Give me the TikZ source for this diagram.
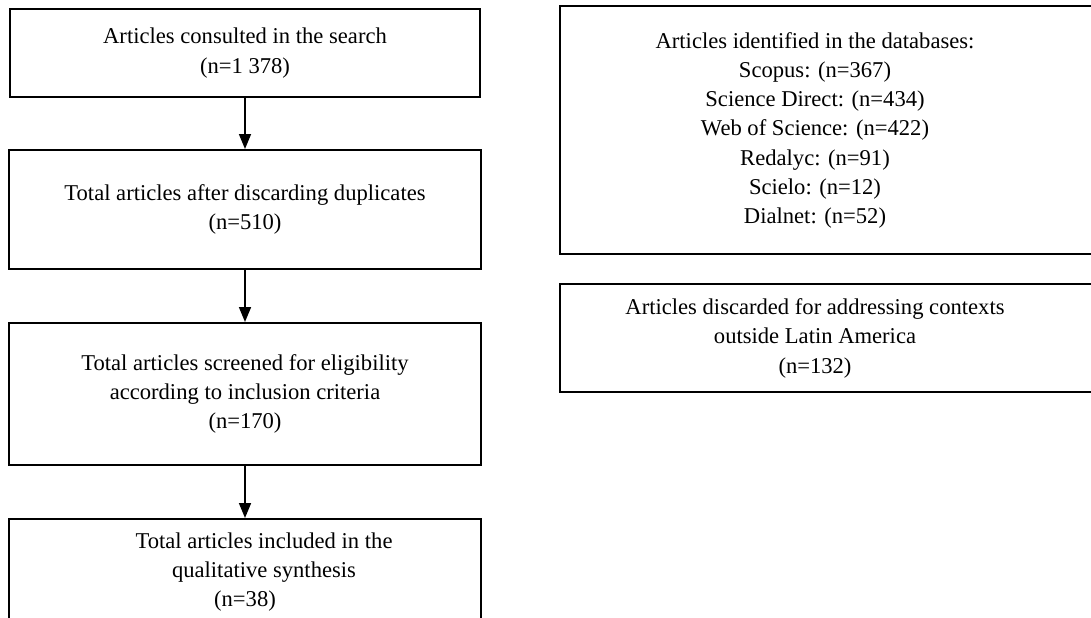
\documentclass[tikz,border=0pt]{standalone}
\usepackage{fontspec}
\setmainfont{Liberation Serif}
\usetikzlibrary{arrows.meta}

\tikzset{
  stagebox/.style={draw, line width=1pt, align=center, inner sep=0pt,
    font=\fontsize{11.3}{14.6}\selectfont},
  flowarrow/.style={-{Triangle[width=6pt,length=7.5pt]}, line width=0.8pt}
}

\begin{document}
\begin{tikzpicture}[x=0.5pt,y=-0.5pt]
  \useasboundingbox (0,0) rectangle (1091,617);

  \node (search)   at (245,53)    [stagebox, minimum width=235pt, minimum height=44pt]
    {Articles consulted in the search\\(n=1 378)};
  \node (unique)   at (245,209.5) [stagebox, minimum width=236pt, minimum height=59.5pt]
    {Total articles after discarding duplicates\\(n=510)};
  \node (screened) at (245,394)   [stagebox, minimum width=236pt, minimum height=71pt]
    {Total articles screened for eligibility\\according to inclusion criteria\\(n=170)};
  \node (included) at (245,572)   [stagebox, minimum width=236pt, minimum height=53pt]
    {\hspace*{19pt}Total articles included in the\\\hspace*{19pt}qualitative synthesis\\(n=38)};

  \node (databases) at (830,130) [stagebox, minimum width=270pt, minimum height=124pt]
    {\hspace*{-15pt}\begin{tabular}{@{}c@{}}Articles identified in the databases:\\
      Scopus: (n=367)\\Science Direct: (n=434)\\Web of Science: (n=422)\\
      Redalyc: (n=91)\\Scielo: (n=12)\\Dialnet: (n=52)\end{tabular}};
  \node (outside)   at (830,338) [stagebox, minimum width=270pt, minimum height=54pt]
    {\hspace*{-15pt}\begin{tabular}{@{}c@{}}Articles discarded for addressing contexts\\
      outside Latin America\\(n=132)\end{tabular}};

  \draw[flowarrow] (search.south)   -- (unique.north);
  \draw[flowarrow] (unique.south)   -- (screened.north);
  \draw[flowarrow] (screened.south) -- (included.north);
\end{tikzpicture}
\end{document}
